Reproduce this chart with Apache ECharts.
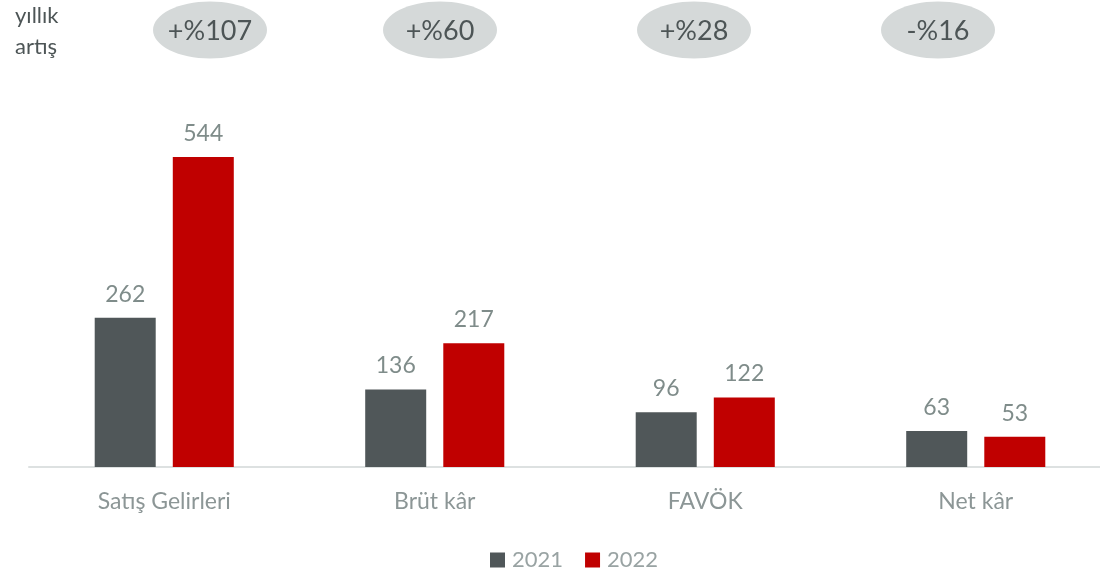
<!DOCTYPE html>
<html>
<head>
<meta charset="utf-8">
<script src="https://cdn.jsdelivr.net/npm/echarts@6/dist/echarts.min.js"></script>
<style>
  html, body { margin: 0; padding: 0; background: #fff; }
  #chart { width: 1100px; height: 575px; }
</style>
</head>
<body>
<div id="chart"></div>
<script>
const categories = ['Satış Gelirleri', 'Brüt kâr', 'FAVÖK', 'Net kâr'];
const values2021 = [262, 136, 96, 63];
const values2022 = [544, 217, 122, 53];
const growthLabels = ['+%107', '+%60', '+%28', '-%16'];
const growthCenters = [210, 440, 694, 938];

const FONT = 'Lato, "Open Sans", sans-serif';
const chart = echarts.init(document.getElementById('chart'));

// yıllık artış balonları
const bubbles = growthLabels.map((label, i) => ({
  type: 'group',
  x: growthCenters[i],
  y: 30,
  children: [
    { type: 'ellipse', shape: { cx: 0, cy: 0, rx: 57, ry: 28.5 }, style: { fill: '#d5d9d9' } },
    {
      type: 'text',
      style: {
        text: label, x: 0, y: 1, align: 'center', verticalAlign: 'middle',
        fill: '#4d5556', font: '27px ' + FONT
      }
    }
  ]
}));

const valueLabel = {
  show: true, position: 'top', distance: 12,
  color: '#7f8c8a', fontSize: 23, fontFamily: FONT
};

chart.setOption({
  backgroundColor: '#fff',
  animation: false,
  grid: { left: 29, width: 1082, top: 125, bottom: 108, outerBoundsMode: 'none', containLabel: false },
  legend: {
    top: 544,
    left: 485,
    itemWidth: 15,
    itemHeight: 15,
    itemGap: 22,
    icon: 'rect',
    textStyle: { color: '#99a3a3', fontSize: 22, fontFamily: FONT, padding: [0, 0, 0, 2] }
  },
  xAxis: {
    type: 'category',
    data: categories,
    axisTick: { show: false },
    axisLine: { lineStyle: { color: '#dde1e1', width: 2 } },
    axisLabel: { color: '#8c9696', fontSize: 23, fontFamily: FONT, margin: 23 }
  },
  yAxis: {
    type: 'value',
    min: 0,
    max: 600,
    show: false,
    splitLine: { show: false }
  },
  series: [
    {
      name: '2021',
      type: 'bar',
      data: values2021,
      barWidth: 61,
      barGap: '28%',
      itemStyle: { color: '#505759' },
      label: valueLabel
    },
    {
      name: '2022',
      type: 'bar',
      data: values2022,
      barWidth: 61,
      itemStyle: { color: '#c00000' },
      label: valueLabel
    }
  ],
  graphic: [
    {
      type: 'text',
      left: 15,
      top: 0,
      style: { text: 'yıllık\nartış', fill: '#4d5556', font: '22px ' + FONT, lineHeight: 31 }
    }
  ].concat(bubbles)
});
</script>
</body>
</html>
